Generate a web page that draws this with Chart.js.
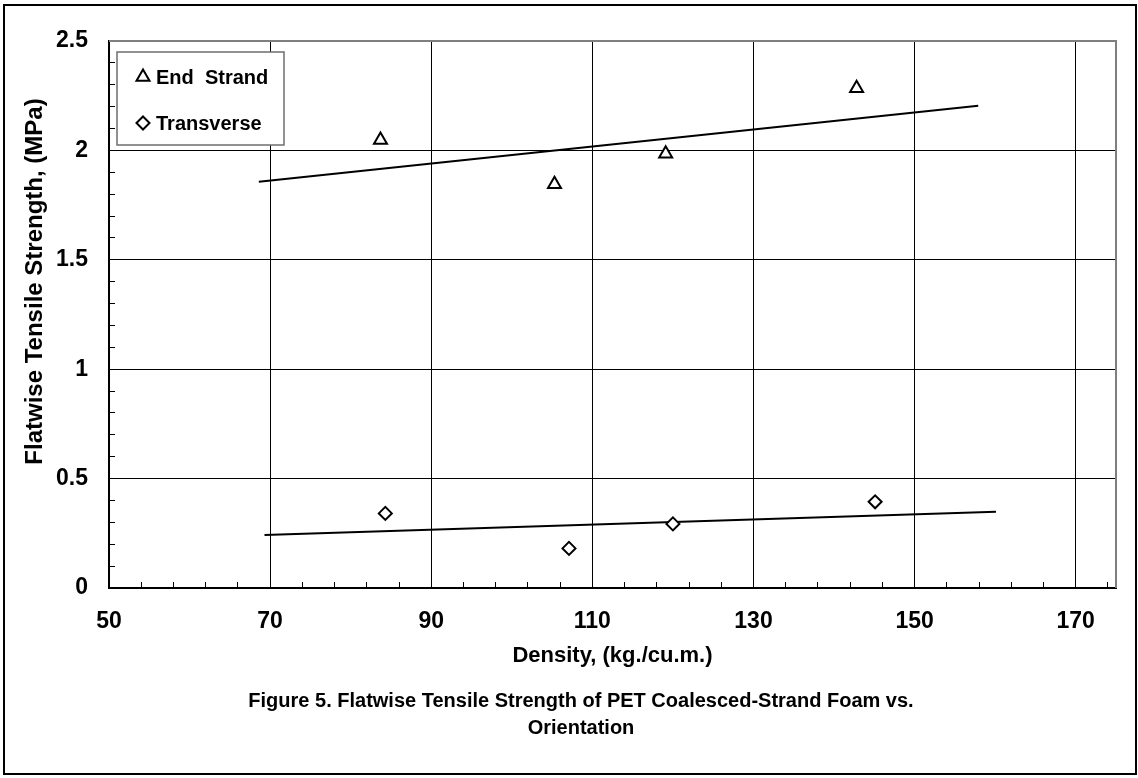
<!DOCTYPE html>
<html>
<head>
<meta charset="utf-8">
<title>Flatwise Tensile Strength of PET Coalesced-Strand Foam</title>
<script src="https://cdn.jsdelivr.net/npm/chart.js@4.4.1/dist/chart.umd.min.js"></script>
<style>
  html, body { margin: 0; padding: 0; background: #fff; }
  #wrap { position: relative; width: 1138px; height: 778px; overflow: hidden; background: #fff; }
  #frame { position: absolute; left: 3px; top: 4px; width: 1134px; height: 771px; border: 2px solid #000; box-sizing: border-box; }
  #chart { position: absolute; left: 0; top: 0; }
</style>
</head>
<body>
<div id="wrap">
  <div id="frame"></div>
  <!-- canvas runs a little past the right edge so the caption centres like the original -->
  <canvas id="chart" width="1158" height="778"></canvas>
</div>
<script>
// measured points, density (kg/m3) vs strength (MPa)
const endStrandDensity = [83.7, 105.3, 119.1, 142.8];
const endStrandStrength = [2.047, 1.845, 1.985, 2.284];
const transverseDensity = [84.3, 107.1, 120.0, 145.1];
const transverseStrength = [0.341, 0.181, 0.293, 0.394];

// trend lines (end points)
const endStrandFitDensity = [68.6, 157.9];
const endStrandFitStrength = [1.857, 2.204];
const transverseFitDensity = [69.3, 160.1];
const transverseFitStrength = [0.242, 0.349];

// axes
const xMajor = [50, 70, 90, 110, 130, 150, 170];
const yMajor = [0, 0.5, 1, 1.5, 2, 2.5];
const xMinorStep = 4;      // 5 minor divisions per 20
const yMinorStep = 0.1;
const xMin = 50, xMax = 175, yMin = 0, yMax = 2.5;

const seriesLabels = ['End  Strand', 'Transverse'];
const xTitle = 'Density, (kg./cu.m.)';
const yTitle = 'Flatwise Tensile Strength, (MPa)';
const captionLines = [
  'Figure 5. Flatwise Tensile Strength of PET Coalesced-Strand Foam vs.',
  'Orientation'
];

// tick positions: minor ticks start at the axis minimum, not at a multiple of the step
const xTickValues = [];
for (let v = xMin; v < xMax; v += xMinorStep) xTickValues.push(v);
const yTickValues = [];
for (let i = 0; i <= Math.round((yMax - yMin) / yMinorStep); i++) yTickValues.push(Math.round(i * yMinorStep * 10) / 10);

const toPoints = (xs, ys) => xs.map((x, i) => ({ x: x, y: ys[i] }));

const FONT = "'Liberation Sans', Arial, sans-serif";
Chart.defaults.font.family = FONT;
Chart.defaults.color = '#000';

// top + right frame of the plot area in grey (Excel style)
const plotFrame = {
  id: 'plotFrame',
  beforeDatasetsDraw(chart) {
    const { ctx, chartArea: a } = chart;
    ctx.save();
    ctx.strokeStyle = '#7f7f7f';
    ctx.lineWidth = 2;
    ctx.beginPath();
    ctx.moveTo(a.left, a.top);
    ctx.lineTo(a.right, a.top);
    ctx.lineTo(a.right, a.bottom);
    ctx.stroke();
    ctx.restore();
  }
};

// y axis title: Excel put it a bit above the middle of the plot, so draw it ourselves
const yAxisTitle = {
  id: 'yAxisTitle',
  afterDraw(chart) {
    const { ctx, chartArea: a } = chart;
    ctx.save();
    ctx.translate(35, (a.top + a.bottom) / 2 - 33);
    ctx.rotate(-Math.PI / 2);
    ctx.font = 'bold 24px ' + FONT;
    ctx.textAlign = 'center';
    ctx.textBaseline = 'middle';
    ctx.fillStyle = '#000';
    ctx.fillText(yTitle, 0, 0);
    ctx.restore();
  }
};

// boxed legend in the top-left corner of the plot
const boxLegend = {
  id: 'boxLegend',
  afterDatasetsDraw(chart) {
    const { ctx, chartArea: a } = chart;
    const left = a.left + 8, top = a.top + 11, w = 167, h = 93;
    ctx.save();
    ctx.fillStyle = '#fff';
    ctx.fillRect(left, top, w, h);
    ctx.strokeStyle = '#6e6e6e';
    ctx.lineWidth = 1.5;
    ctx.strokeRect(left, top, w, h);
    ctx.font = 'bold 20px ' + FONT;
    ctx.textBaseline = 'middle';
    [0, 1].forEach(i => {
      const ds = chart.data.datasets[i];
      const cy = top + 25 + i * 46;
      ctx.strokeStyle = '#000';
      ctx.fillStyle = '#fff';
      ctx.lineWidth = ds.pointBorderWidth;
      Chart.helpers.drawPoint(ctx, { pointStyle: ds.pointStyle, radius: ds.pointRadius, rotation: 0, borderWidth: ds.pointBorderWidth }, left + 26, cy);
      ctx.fillStyle = '#000';
      ctx.fillText(ds.label, left + 39, cy + 1);
    });
    ctx.restore();
  }
};

const isMajor = (list, v) => list.some(m => Math.abs(m - v) < 1e-9);

new Chart(document.getElementById('chart'), {
  type: 'scatter',
  data: {
    datasets: [
      {
        label: seriesLabels[0],
        data: toPoints(endStrandDensity, endStrandStrength),
        pointStyle: 'triangle',
        pointRadius: 7.5,
        pointBorderWidth: 2,
        borderColor: '#000',
        backgroundColor: '#fff',
        pointBackgroundColor: '#fff'
      },
      {
        label: seriesLabels[1],
        data: toPoints(transverseDensity, transverseStrength),
        pointStyle: 'rectRot',
        pointRadius: 6.5,
        pointBorderWidth: 2,
        borderColor: '#000',
        backgroundColor: '#fff',
        pointBackgroundColor: '#fff'
      },
      {
        label: 'End Strand trend',
        data: toPoints(endStrandFitDensity, endStrandFitStrength),
        showLine: true,
        pointRadius: 0,
        borderColor: '#000',
        borderWidth: 2
      },
      {
        label: 'Transverse trend',
        data: toPoints(transverseFitDensity, transverseFitStrength),
        showLine: true,
        pointRadius: 0,
        borderColor: '#000',
        borderWidth: 2
      }
    ]
  },
  options: {
    responsive: false,
    animation: false,
    events: [],
    layout: { padding: { top: 41, right: 0, left: 4, bottom: 36 } },
    scales: {
      x: {
        type: 'linear',
        min: xMin,
        max: xMax,
        afterBuildTicks: axis => { axis.ticks = xTickValues.map(v => ({ value: v })); },
        afterFit: axis => { axis.height = 85; },
        ticks: {
          autoSkip: false,
          maxRotation: 0,
          padding: 26,
          font: { size: 23, weight: 'bold' },
          callback: v => isMajor(xMajor, v) ? String(v) : ''
        },
        grid: {
          color: c => isMajor(xMajor, c.tick.value) ? '#000' : 'rgba(0,0,0,0)',
          tickColor: '#000',
          tickLength: -6,
          lineWidth: 1
        },
        border: { color: '#000', width: 2 },
        title: {
          display: true,
          text: xTitle,
          font: { size: 22, weight: 'bold' },
          padding: { top: 0, bottom: 4 }
        }
      },
      y: {
        min: yMin,
        max: yMax,
        afterBuildTicks: axis => { axis.ticks = yTickValues.map(v => ({ value: v })); },
        afterFit: axis => { axis.width = 105; },
        ticks: {
          autoSkip: false,
          padding: 27,
          font: { size: 23, weight: 'bold' },
          callback: v => isMajor(yMajor, v) ? String(v) : ''
        },
        grid: {
          color: c => {
            if (!isMajor(yMajor, c.tick.value)) return 'rgba(0,0,0,0)';
            return c.tick.value === yMax ? '#7f7f7f' : '#000';
          },
          tickColor: '#000',
          tickLength: -6,
          lineWidth: 1
        },
        border: { color: '#000', width: 2 },
        title: { display: false }
      },
      // spacer on the right so the plot ends where the figure's plot ends
      yRight: {
        position: 'right',
        display: true,
        grid: { display: false },
        border: { display: false },
        ticks: { display: false },
        afterFit: axis => { axis.width = 42; }
      }
    },
    plugins: {
      legend: { display: false },
      tooltip: { enabled: false },
      title: {
        display: true,
        position: 'bottom',
        text: captionLines,
        color: '#000',
        font: { size: 20, weight: 'bold', lineHeight: 1.35 },
        padding: { top: 15, bottom: 0 }
      }
    }
  },
  plugins: [plotFrame, boxLegend, yAxisTitle]
});
</script>
</body>
</html>
